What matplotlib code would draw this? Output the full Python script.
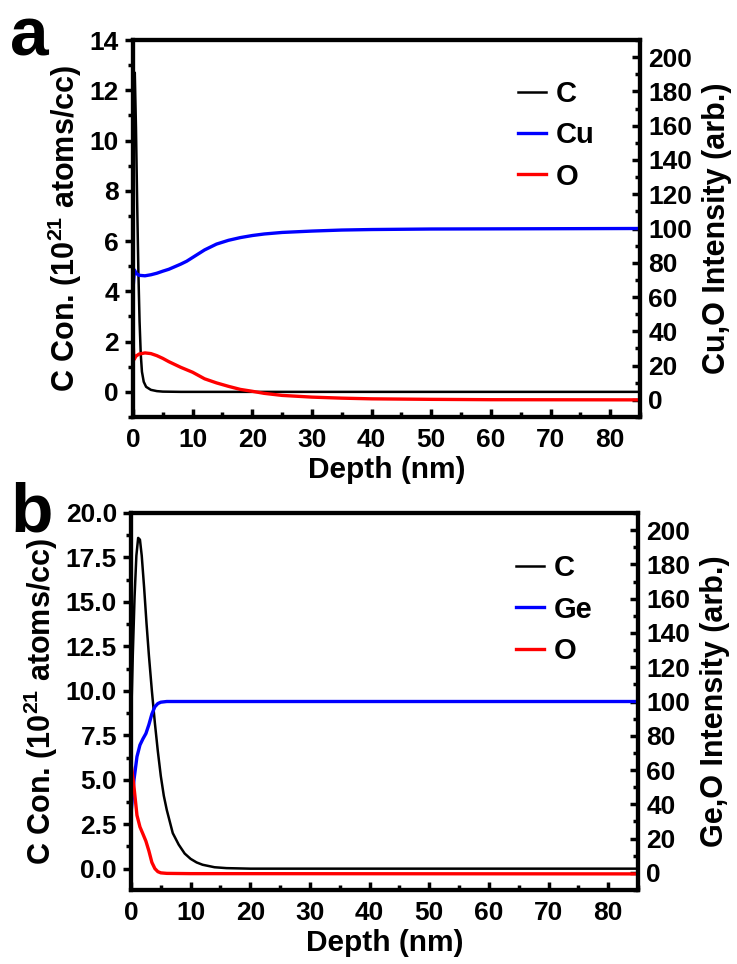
import matplotlib
matplotlib.use("Agg")
import matplotlib.pyplot as plt
from matplotlib.ticker import MultipleLocator, FormatStrFormatter

plt.rcParams['font.family'] = 'Liberation Sans'
plt.rcParams['font.weight'] = 'bold'
plt.rcParams['mathtext.fontset'] = 'custom'
plt.rcParams['mathtext.rm'] = 'Liberation Sans'
plt.rcParams['mathtext.bf'] = 'Liberation Sans:bold'

# ---- panel a : C (left axis, 1e21 atoms/cc), Cu and O (right axis, arb.)
depth_a_c = [0, 0.15, 0.3, 0.5, 0.7, 0.9, 1.1, 1.3, 1.5, 1.8, 2.2, 3, 4, 5, 8, 85]
c_a = [8.5, 11.0, 12.7, 10.5, 7.5, 4.8, 2.8, 1.5, 0.8, 0.4, 0.2, 0.08, 0.03, 0.01, 0.0, 0.0]

depth_a_cu = [0, 0.25, 0.5, 1, 2, 3, 4, 5, 6, 7, 8, 9, 10, 12, 14, 16, 18, 20, 22, 25,
              30, 35, 40, 50, 85]
cu_a = [64.8, 75.8, 73.9, 72.7, 72.4, 73.0, 73.9, 75.1, 76.2, 77.7, 79.2, 80.9, 83.1,
        87.5, 90.9, 93.1, 94.7, 95.9, 96.8, 97.7, 98.5, 99.1, 99.4, 99.7, 100.0]

depth_a_o = [0, 0.15, 0.5, 1, 2, 3, 4, 5, 6, 8, 10, 12, 14, 16, 18, 20, 22, 25, 30, 35,
             40, 50, 60, 85]
o_a = [34.9, 23.4, 25.5, 26.7, 27.4, 27.0, 25.8, 24.2, 22.3, 19.0, 16.1, 12.3, 9.9, 7.9,
       6.1, 5.0, 3.8, 2.6, 1.6, 1.0, 0.6, 0.3, 0.1, 0.0]

# ---- panel b : C (left axis), Ge and O (right axis)
depth_b_c = [0, 0.3, 0.6, 0.9, 1.2, 1.5, 1.8, 2.2, 2.6, 3.0, 3.5, 4.0, 4.5, 5.0, 5.5, 6.0,
             7, 8, 9, 10, 11, 12, 14, 16, 20, 85]
c_b = [8.0, 12.0, 15.3, 17.6, 18.6, 18.5, 17.6, 15.8, 13.8, 12.0, 10.0, 8.2, 6.6, 5.2,
       4.1, 3.3, 2.0, 1.35, 0.85, 0.55, 0.35, 0.22, 0.08, 0.03, 0.0, 0.0]

depth_b_ge = [0, 0.5, 1.0, 1.5, 2.0, 2.5, 3.0, 3.5, 4.0, 4.5, 5.0, 6.0, 10, 85]
ge_b = [34.6, 54.3, 67.8, 74.6, 78.2, 81.3, 86.5, 92.7, 96.9, 98.8, 99.6, 100.0, 100.0, 100.0]

depth_b_o = [0, 0.5, 1.0, 1.5, 2.0, 2.5, 3.0, 3.5, 4.0, 4.5, 5.0, 6.0, 10, 85]
o_b = [64.2, 50.2, 33.6, 26.8, 22.7, 18.5, 12.8, 6.1, 2.5, 0.7, 0.0, -0.3, -0.45, -0.6]


def panel(ax, x_c, c, x_m, m, x_o, o, metal, c_lim, c_major, c_minor, c_fmt, right_label,
          leg_y):
    ax2 = ax.twinx()
    l1, = ax.plot(x_c, c, color='black', lw=1.8, label='C')
    l2, = ax2.plot(x_m, m, color='blue', lw=2.4, label=metal)
    l3, = ax2.plot(x_o, o, color='red', lw=2.4, label='O')

    ax.set_xlim(0, 85)
    ax.set_ylim(*c_lim)
    ax2.set_ylim(-10, 210)

    ax.xaxis.set_major_locator(MultipleLocator(10))
    ax.xaxis.set_minor_locator(MultipleLocator(5))
    ax.yaxis.set_major_locator(MultipleLocator(c_major))
    ax.yaxis.set_minor_locator(MultipleLocator(c_minor))
    ax.yaxis.set_major_formatter(FormatStrFormatter(c_fmt))
    ax2.yaxis.set_major_locator(MultipleLocator(20))
    ax2.yaxis.set_minor_locator(MultipleLocator(10))

    ax.tick_params(axis='y', which='major', direction='out', length=6, width=2.5,
                   labelsize=19, pad=4)
    ax.tick_params(axis='y', which='minor', direction='out', length=3.5, width=2.5)
    ax.tick_params(axis='x', which='major', direction='in', length=6, width=2.5,
                   labelsize=19, pad=8)
    ax.tick_params(axis='x', which='minor', direction='in', length=3.5, width=2.5)
    ax2.tick_params(axis='y', which='major', direction='in', length=6, width=2.5,
                    labelsize=19, pad=6)
    ax2.tick_params(axis='y', which='minor', direction='in', length=3.5, width=2.5)

    for a in (ax, ax2):
        for s in a.spines.values():
            s.set_linewidth(3)

    ax.set_xlabel('Depth (nm)', fontsize=21.5, fontweight='bold', labelpad=3)
    ax.set_ylabel(r'C Con. (10$^{\mathrm{21}}$ atoms/cc)', fontsize=22,
                  fontweight='bold', labelpad=4)
    ax2.set_ylabel(right_label, fontsize=22, fontweight='bold', labelpad=7)

    ax2.legend(handles=[l1, l2, l3], loc='upper left', bbox_to_anchor=(0.76, leg_y),
               frameon=False, prop={'size': 21, 'weight': 'bold'}, handlelength=0.95,
               handletextpad=0.35, labelspacing=0.45, borderpad=0, borderaxespad=0)
    return ax2


fig = plt.figure(figsize=(7.37, 9.64), dpi=100)
ax_a = fig.add_axes([133 / 737, 1 - 417 / 964, 507 / 737, 377 / 964])
ax_b = fig.add_axes([131 / 737, 1 - 890 / 964, 507 / 737, 377 / 964])

panel(ax_a, depth_a_c, c_a, depth_a_cu, cu_a, depth_a_o, o_a, 'Cu',
      (-1, 14), 2, 1, '%d', 'Cu,O Intensity (arb.)', 0.893)
panel(ax_b, depth_b_c, c_b, depth_b_ge, ge_b, depth_b_o, o_b, 'Ge',
      (-1.2, 20), 2.5, 1.25, '%.1f', 'Ge,O Intensity (arb.)', 0.89)

fig.text(10 / 737, 1 - 55 / 964, 'a', fontsize=50, fontweight='bold', va='baseline')
fig.text(10 / 737, 1 - 532 / 964, 'b', fontsize=50, fontweight='bold', va='baseline')

fig.savefig('out.png', dpi=100)
